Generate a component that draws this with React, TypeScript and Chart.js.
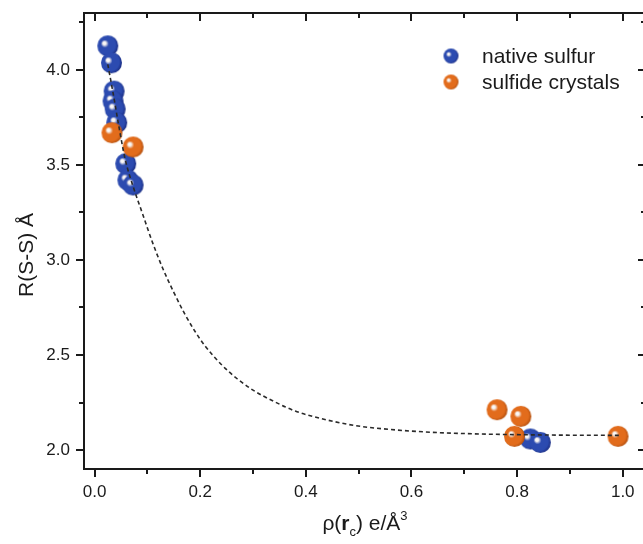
import { useEffect, useRef } from "react";
import { Chart, registerables } from "chart.js";

Chart.register(...registerables);

// Native sulfur allotropes: critical-point density vs. S–S distance
const nativeX = [0.025, 0.032, 0.037, 0.035, 0.039, 0.042, 0.059, 0.063, 0.073, 0.825, 0.844];
const nativeY = [4.127, 4.038, 3.889, 3.837, 3.795, 3.723, 3.507, 3.421, 3.395, 2.058, 2.04];

// Sulfide crystals
const sulfideX = [0.033, 0.073, 0.762, 0.807, 0.795, 0.991];
const sulfideY = [3.67, 3.595, 2.212, 2.177, 2.072, 2.072];

// Fitted trend (dashed)
const fitX = [0.025, 0.035, 0.045, 0.058, 0.075, 0.09, 0.11, 0.13, 0.15, 0.17, 0.19, 0.21, 0.24, 0.27, 0.3, 0.34, 0.38, 0.43, 0.49, 0.56, 0.64, 0.72, 0.82, 0.9, 0.995];
const fitY = [4.03, 3.88, 3.72, 3.53, 3.37, 3.25, 3.09, 2.95, 2.83, 2.72, 2.625, 2.545, 2.45, 2.375, 2.315, 2.255, 2.205, 2.165, 2.13, 2.108, 2.093, 2.085, 2.08, 2.078, 2.077];

const xMajorTicks = [0, 0.2, 0.4, 0.6, 0.8, 1.0];
const xMinorTicks = [0.1, 0.3, 0.5, 0.7, 0.9];
const yMajorTicks = [2.0, 2.5, 3.0, 3.5, 4.0];
const yMinorTicks = [2.25, 2.75, 3.25, 3.75, 4.25];

const seriesNames = ["native sulfur", "sulfide crystals"];
const yTitle = "R(S-S) Å";

const FONT = '"Liberation Sans", Arial, Helvetica, sans-serif';
const INK = "#1a1a1a";

function makeBall(r: number, base: string, dark: string): HTMLCanvasElement {
  const s = Math.ceil(r * 2) + 2;
  const c = document.createElement("canvas");
  c.width = s;
  c.height = s;
  const g = c.getContext("2d")!;
  const cx = s / 2;
  const cy = s / 2;
  const grad = g.createRadialGradient(cx - r * 0.36, cy - r * 0.28, 0, cx - r * 0.1, cy - r * 0.05, r * 1.1);
  grad.addColorStop(0, "#ffffff");
  grad.addColorStop(0.14, "#f6f2f0");
  grad.addColorStop(0.34, base);
  grad.addColorStop(0.8, base);
  grad.addColorStop(1, dark);
  g.fillStyle = grad;
  g.beginPath();
  g.arc(cx, cy, r, 0, Math.PI * 2);
  g.fill();
  return c;
}

export default function App() {
  const canvasRef = useRef<HTMLCanvasElement | null>(null);

  useEffect(() => {
    const canvas = canvasRef.current;
    if (!canvas) return;

    const blueBall = makeBall(10.5, "#2c4bb0", "#1a2d84");
    const orangeBall = makeBall(10.5, "#e26c1c", "#b24f0e");
    const blueSmall = makeBall(7.5, "#2c4bb0", "#1a2d84");
    const orangeSmall = makeBall(7.5, "#e26c1c", "#b24f0e");

    const decorations = {
      id: "decorations",
      afterDraw(chart: any) {
        const { ctx, chartArea: a, scales } = chart;
        const sx = scales.x;
        const sy = scales.y;
        ctx.save();
        ctx.strokeStyle = INK;
        ctx.lineWidth = 2;

        // top and right frame
        ctx.beginPath();
        ctx.moveTo(a.left - 1, a.top);
        ctx.lineTo(a.right, a.top);
        ctx.lineTo(a.right, a.bottom + 1);
        ctx.stroke();

        ctx.beginPath();
        // bottom minor (outward) and top major/minor (inward)
        for (const v of xMinorTicks) {
          const px = Math.round(sx.getPixelForValue(v));
          ctx.moveTo(px, a.bottom);
          ctx.lineTo(px, a.bottom + 5);
          ctx.moveTo(px, a.top);
          ctx.lineTo(px, a.top + 5);
        }
        for (const v of xMajorTicks) {
          const px = Math.round(sx.getPixelForValue(v));
          ctx.moveTo(px, a.top);
          ctx.lineTo(px, a.top + 8);
        }
        // left minor (outward) and right major/minor (inward)
        for (const v of yMinorTicks) {
          const py = Math.round(sy.getPixelForValue(v));
          ctx.moveTo(a.left - 5, py);
          ctx.lineTo(a.left, py);
          ctx.moveTo(a.right, py);
          ctx.lineTo(a.right - 5, py);
        }
        for (const v of yMajorTicks) {
          const py = Math.round(sy.getPixelForValue(v));
          ctx.moveTo(a.right, py);
          ctx.lineTo(a.right - 8, py);
        }
        ctx.stroke();

        // y title
        ctx.fillStyle = INK;
        ctx.save();
        ctx.translate(27, 255);
        ctx.rotate(-Math.PI / 2);
        ctx.font = `21px ${FONT}`;
        ctx.textAlign = "center";
        ctx.textBaseline = "middle";
        ctx.fillText(yTitle, 0, 0);
        ctx.restore();

        // x title: ρ(r_c) e/Å³
        const parts = [
          { t: "ρ(", f: `21px ${FONT}`, dy: 0 },
          { t: "r", f: `bold 21px ${FONT}`, dy: 0 },
          { t: "c", f: `13px ${FONT}`, dy: 6 },
          { t: ") e/Å", f: `21px ${FONT}`, dy: 0 },
          { t: "3", f: `13px ${FONT}`, dy: -10 },
        ];
        ctx.textAlign = "left";
        ctx.textBaseline = "alphabetic";
        let total = 0;
        for (const p of parts) {
          ctx.font = p.f;
          total += ctx.measureText(p.t).width;
        }
        let cx = 365 - total / 2;
        const base = 530;
        for (const p of parts) {
          ctx.font = p.f;
          ctx.fillText(p.t, cx, base + p.dy);
          cx += ctx.measureText(p.t).width;
        }

        // legend
        const rows = [
          { img: blueSmall, label: seriesNames[0], y: 56 },
          { img: orangeSmall, label: seriesNames[1], y: 82 },
        ];
        ctx.font = `21px ${FONT}`;
        ctx.textBaseline = "middle";
        for (const r of rows) {
          ctx.drawImage(r.img, 451 - r.img.width / 2, r.y - r.img.height / 2);
          ctx.fillText(r.label, 482, r.y + 1);
        }
        ctx.restore();
      },
    };

    const chart = new Chart(canvas, {
      type: "scatter",
      data: {
        datasets: [
          {
            label: "fit",
            data: fitX.map((x, i) => ({ x, y: fitY[i] })),
            showLine: true,
            borderColor: "#2a2a2a",
            borderWidth: 1.6,
            borderDash: [4, 3],
            pointRadius: 0,
            cubicInterpolationMode: "monotone",
            order: 0,
          } as any,
          {
            label: seriesNames[0],
            data: nativeX.map((x, i) => ({ x, y: nativeY[i] })),
            pointStyle: blueBall,
            pointRadius: 10,
            order: 2,
          },
          {
            label: seriesNames[1],
            data: sulfideX.map((x, i) => ({ x, y: sulfideY[i] })),
            pointStyle: orangeBall,
            pointRadius: 10,
            order: 1,
          },
        ],
      },
      options: {
        animation: false,
        responsive: false,
        layout: { autoPadding: false, padding: { top: 13, right: 6, left: 0, bottom: 0 } },
        plugins: {
          legend: { display: false },
          tooltip: { enabled: false },
        },
        scales: {
          x: {
            type: "linear",
            min: -0.02,
            max: 1.044,
            afterBuildTicks: (scale: any) => {
              scale.ticks = xMajorTicks.map((v) => ({ value: v }));
            },
            afterFit: (scale: any) => {
              scale.height = 75;
              scale.paddingLeft = 0;
              scale.paddingRight = 0;
            },
            ticks: {
              font: { family: FONT, size: 17 },
              color: INK,
              padding: 5,
              callback: (v: any) => Number(v).toFixed(1),
            },
            grid: {
              drawOnChartArea: false,
              tickLength: 8,
              lineWidth: 2,
              color: INK,
            },
            border: { display: true, color: INK, width: 2 },
          },
          y: {
            type: "linear",
            min: 1.9,
            max: 4.3,
            afterBuildTicks: (scale: any) => {
              scale.ticks = yMajorTicks.map((v) => ({ value: v }));
            },
            afterFit: (scale: any) => {
              scale.width = 84;
              scale.paddingTop = 0;
              scale.paddingBottom = 0;
            },
            ticks: {
              font: { family: FONT, size: 17 },
              color: INK,
              padding: 6,
              callback: (v: any) => Number(v).toFixed(1),
            },
            grid: {
              drawOnChartArea: false,
              tickLength: 8,
              lineWidth: 2,
              color: INK,
            },
            border: { display: true, color: INK, width: 2 },
          },
        },
      },
      plugins: [decorations],
    });

    return () => chart.destroy();
  }, []);

  return (
    <div
      style={{
        position: "fixed",
        left: 0,
        top: 0,
        width: 643,
        height: 544,
        overflow: "hidden",
        background: "#ffffff",
      }}
    >
      <canvas ref={canvasRef} width={652} height={544} style={{ display: "block" }} />
    </div>
  );
}
